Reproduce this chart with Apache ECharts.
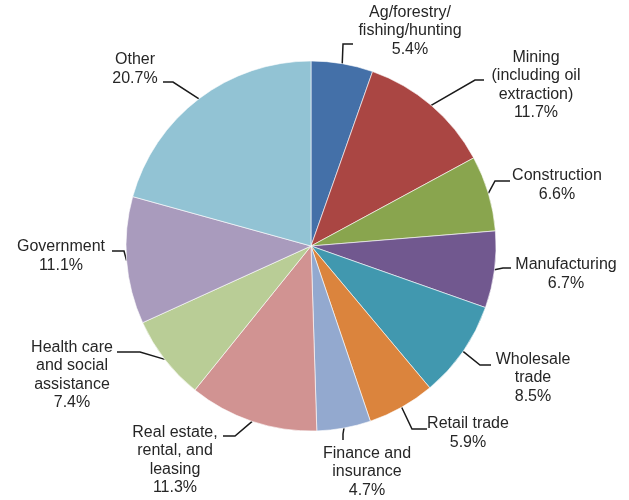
<!DOCTYPE html>
<html>
<head>
<meta charset="utf-8">
<script src="https://cdn.jsdelivr.net/npm/echarts@6/dist/echarts.min.js"></script>
<style>html,body{margin:0;padding:0;background:#fff}#c{width:629px;height:500px}</style>
</head>
<body>
<div id="c"></div>
<script>
const categories = [
  "Ag/forestry/\nfishing/hunting",
  "Mining\n(including oil\nextraction)",
  "Construction",
  "Manufacturing",
  "Wholesale\ntrade",
  "Retail trade",
  "Finance and\ninsurance",
  "Real estate,\nrental, and\nleasing",
  "Health care\nand social\nassistance",
  "Government",
  "Other"
];
const shares = [5.4, 11.7, 6.6, 6.7, 8.5, 5.9, 4.7, 11.3, 7.4, 11.1, 20.7];
const colors = ["#4470A8","#AA4643","#89A54E","#71588F","#4198AF","#DB843D","#93A9CF","#D19392","#B9CD96","#A99BBD","#92C3D4"];

// label placement (label centre, elbow and end of leader line)
const labelPlacement = [
  {c:[410,31],  e:[343,44],  t:[353,44]},
  {c:[536,85],  e:[475,80],  t:[484,80]},
  {c:[557,185], e:[495,181], t:[510,181]},
  {c:[566,274], e:[503,268], t:[511,268]},
  {c:[533,378], e:[480,365], t:[491,365]},
  {c:[468,433], e:[412,429], t:[427,429]},
  {c:[367,472], e:[343,434], t:[343,440]},
  {c:[175,460], e:[235,436], t:[223,436]},
  {c:[72,375],  e:[140,352], t:[117,352]},
  {c:[61,256],  e:[124,251], t:[112,251]},
  {c:[135,69],  e:[173,82],  t:[163,82]}
];

const chart = echarts.init(document.getElementById('c'), null, {renderer:'canvas'});
chart.setOption({
  animation: false,
  color: colors,
  series: [{
    type: 'pie',
    center: [311, 246],
    radius: 185,
    startAngle: 90,
    clockwise: true,
    avoidLabelOverlap: false,
    itemStyle: {borderColor: '#ffffff', borderWidth: 0.6},
    label: {
      show: true,
      position: 'outside',
      formatter: p => p.name + '\n' + p.value.toFixed(1) + '%',
      fontFamily: 'Liberation Sans, Arial, sans-serif',
      fontSize: 16,
      lineHeight: 18.5,
      color: '#262626'
    },
    labelLine: {show: true, length: 10, length2: 10, lineStyle: {color: '#1a1a1a', width: 1.5}},
    labelLayout: function (params) {
      const lp = labelPlacement[params.dataIndex];
      const p0 = params.labelLinePoints ? params.labelLinePoints[0] : lp.e;
      return {
        x: lp.c[0], y: lp.c[1], align: 'center', verticalAlign: 'middle',
        labelLinePoints: [p0, lp.e, lp.t]
      };
    },
    data: categories.map((n, i) => ({name: n, value: shares[i]}))
  }]
});
</script>
</body>
</html>
